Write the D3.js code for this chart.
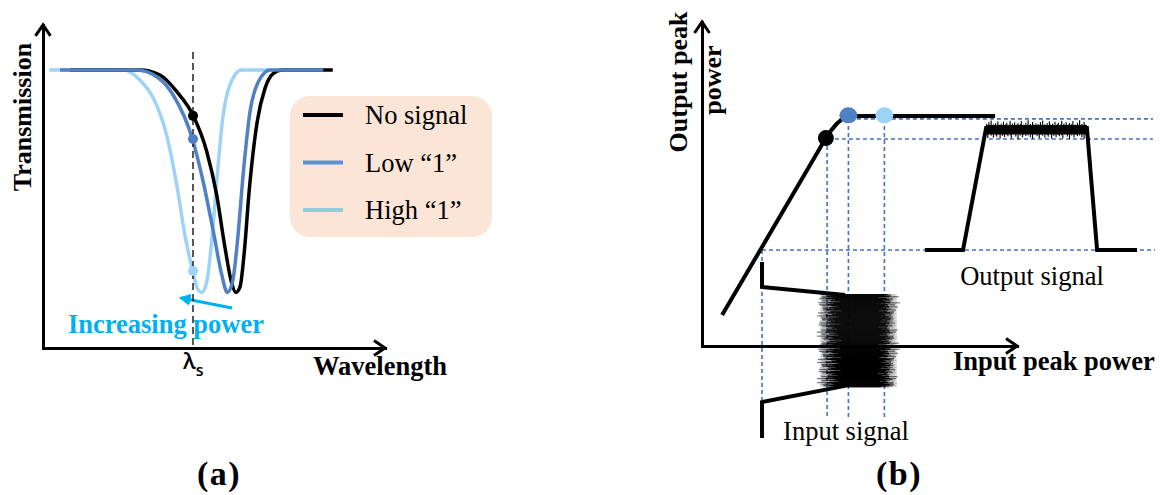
<!DOCTYPE html>
<html><head><meta charset="utf-8">
<script src="https://cdn.jsdelivr.net/npm/d3@7"></script>
<style>body{margin:0;background:#fff}svg{display:block}</style>
</head><body>
<svg id="c" width="1165" height="495"></svg>
<script>
// ---------- Panel (a) data: transmission vs wavelength (a.u.) ----------
const lambdaS = 50;
const noSignal = [[9.0,1],[32.3,1],[39.0,0.982],[44.6,0.922],[50.1,0.835],[54.6,0.706],[57.9,0.55],[60.7,0.359],[62.9,0.233],[64.3,0.2],[65.7,0.221],[67.0,0.335],[68.8,0.574],[71.4,0.814],[74.0,0.934],[76.8,0.988],[79.6,1],[96.6,1]];
const low1 = [[5.7,1],[31.2,1],[37.9,0.976],[43.4,0.91],[49.8,0.752],[53.4,0.598],[56.8,0.418],[59.6,0.263],[61.4,0.2],[63.2,0.239],[64.8,0.382],[66.8,0.634],[69.0,0.85],[71.8,0.958],[75.7,1],[93.4,1]];
const high1 = [[2.1,1],[26.8,1],[32.3,0.964],[36.8,0.898],[41.2,0.766],[44.6,0.586],[47.3,0.406],[49.9,0.277],[51.4,0.215],[52.9,0.2],[54.6,0.239],[56.2,0.382],[57.9,0.598],[59.9,0.826],[62.3,0.946],[66.2,1],[75.7,1]];
const dotsA = [0.835, 0.752, 0.277];            // transmission at lambda_s
const legendLabels = ["No signal", "Low \u201c1\u201d", "High \u201c1\u201d"];
const shiftArrow = [[63,0.144],[46,0.18]];       // increasing power arrow

// ---------- Panel (b) data: output vs input peak power (a.u.) ----------
const transfer = [[6.7,10.3],[41.3,69.3],[43.0,71.8],[45.0,74.2],[47.0,75.9],[49.0,76.7],[97.7,76.7]];
const inLevels = [20, 41.7, 48.8, 60.8];         // zero, no-signal, low "1", high "1"
const outLevels = [32, 69, 75.7];               // zero, no-signal, saturated
const dotsB = [[41.3,69.3],[48.8,76.9],[60.8,76.9]];
const outPulse = [[74.3,32],[87,32],[94.7,72.7],[128.3,72.7],[131.7,32],[145,32]];
const inUpper = [[20,28],[20,19.7],[47.7,17]];
const inLower = [[47.7,-13.3],[20,-18.7],[20,-30.7]];
const jitter = [0.62,0.18,0.85,0.41,0.97,0.27,0.55,0.08,0.73,0.36,0.91,0.49,0.14,0.66,0.32,0.88,0.04,0.58,0.79,0.22,0.45,0.95,0.11,0.69,0.38,0.83,0.26,0.52,0.74,0.06,0.61,0.93,0.3,0.47,0.16,0.77,0.4,0.99,0.21,0.64,0.12,0.86,0.5,0.35,0.71,0.03];

const C = {black:"#000", blue:"#4f81c4", light:"#9dd3f5", legBlue:"#5b8fd6", legLight:"#92cddc", cyan:"#00b0f0", dash:"#4472c4"};
const serif = "'Liberation Serif','Times New Roman',serif";
const svg = d3.select("#c");

function chevron(g, x, y, dir){
  const L=11, W=7.5;
  const d = dir==="up" ? `M${x-W},${y+L}L${x},${y}L${x+W},${y+L}` : `M${x-L},${y-W}L${x},${y}L${x-L},${y+W}`;
  g.append("path").attr("d",d).attr("fill","none").attr("stroke","#000").attr("stroke-width",3);
}
function styleAxis(g){ g.select(".domain").attr("stroke","#000").attr("stroke-width",3).attr("stroke-linecap","square"); }

// ================= Panel (a) =================
const xa = d3.scaleLinear().domain([0,114]).range([43,385]);
const ya = d3.scaleLinear().domain([0,1]).range([348,70]);
const ga = svg.append("g");
const yaAxis = d3.scaleLinear().domain([0,1.162]).range([ya(0), ya(1.162)]);
ga.append("g").attr("transform",`translate(0,${ya(0)})`)
  .call(d3.axisBottom(xa).tickValues([]).tickSizeOuter(0)).call(styleAxis);
ga.append("g").attr("transform",`translate(${xa(0)},0)`)
  .call(d3.axisLeft(yaAxis).tickValues([]).tickSizeOuter(0)).call(styleAxis);
chevron(ga, xa(0), yaAxis.range()[1], "up");
chevron(ga, xa.range()[1], ya(0), "right");

const lineA = d3.line().x(d=>xa(d[0])).y(d=>ya(d[1])).curve(d3.curveMonotoneX);
[[high1,C.light],[noSignal,C.black],[low1,C.blue]].forEach(([s,c])=>{
  ga.append("path").attr("d",lineA(s)).attr("fill","none").attr("stroke",c).attr("stroke-width",3.5);
});

// increasing power text & arrow
ga.append("text").attr("x",xa(8.3)).attr("y",ya(0.054)).attr("font-family",serif).attr("font-weight","bold")
  .attr("font-size",26.5).attr("fill",C.cyan).text("Increasing power");
const defs = svg.append("defs");
defs.append("marker").attr("id","ah").attr("viewBox","0 0 10 10").attr("refX",8).attr("refY",5)
  .attr("markerWidth",4).attr("markerHeight",4).attr("orient","auto")
  .append("path").attr("d","M0,0L10,5L0,10Z").attr("fill",C.cyan);
ga.append("path").attr("d",d3.line().x(d=>xa(d[0])).y(d=>ya(d[1]))(shiftArrow))
  .attr("stroke",C.cyan).attr("stroke-width",3).attr("fill","none").attr("marker-end","url(#ah)");

// lambda_s dashed line
ga.append("line").attr("x1",xa(lambdaS)).attr("x2",xa(lambdaS)).attr("y1",ya(1.065)).attr("y2",ya(0))
  .attr("stroke","#222").attr("stroke-width",1.5).attr("stroke-dasharray","7,4");
[C.black,C.blue,C.light].forEach((c,i)=>{
  ga.append("circle").attr("cx",xa(lambdaS)).attr("cy",ya(dotsA[i])).attr("r",5).attr("fill",c);
});
const lt = ga.append("text").attr("x",xa(lambdaS)-10).attr("y",369).attr("font-family","'Open Sans','Noto Sans',sans-serif").attr("font-size",22).attr("font-weight","600").attr("fill","#000");
lt.append("tspan").text("\u03bb");
lt.append("tspan").attr("font-size",16).attr("dy",7).attr("dx",0).text("s");

// axis labels a
ga.append("text").attr("transform",`translate(31,117) rotate(-90)`).attr("text-anchor","middle")
  .attr("font-family",serif).attr("font-weight","bold").attr("font-size",26).text("Transmission");
ga.append("text").attr("x",313).attr("y",375).attr("font-family",serif).attr("font-weight","bold").attr("font-size",26.5).text("Wavelength");

// legend
const lg = ga.append("g");
lg.append("rect").attr("x",290).attr("y",96).attr("width",202).attr("height",141).attr("rx",20).attr("fill","#fbe5d6");
[C.black,C.legBlue,C.legLight].forEach((c,i)=>{
  const yy = 115 + i*47.5;
  lg.append("line").attr("x1",303).attr("x2",343).attr("y1",yy).attr("y2",yy).attr("stroke",c).attr("stroke-width",4);
  lg.append("text").attr("x",365).attr("y",yy+9).attr("font-family",serif).attr("font-size",26.5).attr("fill","#000").text(legendLabels[i]);
});
ga.append("text").attr("x",219).attr("y",485).attr("text-anchor","middle").attr("font-family",serif)
  .attr("font-weight","bold").attr("font-size",34).attr("letter-spacing",1.5).text("(a)");

// ================= Panel (b) =================
const xb = d3.scaleLinear().domain([0,105]).range([702,1017]);
const yb = d3.scaleLinear().domain([0,108]).range([346,22]);
const gb = svg.append("g");
gb.append("g").attr("transform",`translate(0,${yb(0)})`)
  .call(d3.axisBottom(xb).tickValues([]).tickSizeOuter(0)).call(styleAxis);
gb.append("g").attr("transform",`translate(${xb(0)},0)`)
  .call(d3.axisLeft(yb).tickValues([]).tickSizeOuter(0)).call(styleAxis);
chevron(gb, xb(0), yb.range()[1], "up");
chevron(gb, xb.range()[1], yb(0), "right");

// dashed guides
const dashed = (x1,y1,x2,y2)=>gb.append("line").attr("x1",xb(x1)).attr("y1",yb(y1)).attr("x2",xb(x2)).attr("y2",yb(y2))
  .attr("stroke",C.dash).attr("stroke-width",1.6).attr("stroke-dasharray","4,3");
dashed(inLevels[0], outLevels[0], inLevels[0], -18);
dashed(inLevels[1], outLevels[1], inLevels[1], -24);
dashed(inLevels[2], outLevels[2], inLevels[2], -24);
dashed(inLevels[3], outLevels[2], inLevels[3], -24);
dashed(inLevels[0], outLevels[0], 151, outLevels[0]);
dashed(44.3, outLevels[1], 150.3, outLevels[1]);
dashed(49.3, outLevels[2], 150.3, outLevels[2]);

const lineB = d3.line().x(d=>xb(d[0])).y(d=>yb(d[1]));
gb.append("path").attr("d",lineB(transfer)).attr("fill","none").attr("stroke","#000").attr("stroke-width",4).attr("stroke-linejoin","round");
[C.black,C.blue,C.light].forEach((c,i)=>{
  gb.append("ellipse").attr("cx",xb(dotsB[i][0])).attr("cy",yb(dotsB[i][1])).attr("rx",i?9:8).attr("ry",8).attr("fill",c);
});

// output signal
gb.append("path").attr("d",lineB(outPulse)).attr("fill","none").attr("stroke","#000").attr("stroke-width",4).attr("stroke-linejoin","miter");
const nOutCols = 90, outX0 = 94.7, outX1 = 128.3, colW = (outX1-outX0)/nOutCols;
gb.append("rect").attr("x",xb(outX0)).attr("width",xb(outX1)-xb(outX0)).attr("y",yb(73.6)).attr("height",yb(70.6)-yb(73.6)).attr("fill","#000");
d3.range(nOutCols).forEach(k=>{
  const top = 73.6 + jitter[k%jitter.length]**3*1.7;
  const bot = 70.6 - jitter[(k+9)%jitter.length]**3*1.7;
  gb.append("rect").attr("x",xb(outX0+k*colW)).attr("width",xb(colW)-xb(0))
    .attr("y",yb(top)).attr("height",yb(bot)-yb(top)).attr("fill","#000");
});
gb.append("text").attr("x",1032).attr("y",285).attr("text-anchor","middle").attr("font-family",serif).attr("font-size",26.5).text("Output signal");

// input signal
gb.append("path").attr("d",lineB(inUpper)).attr("fill","none").attr("stroke","#000").attr("stroke-width",4);
gb.append("path").attr("d",lineB(inLower)).attr("fill","none").attr("stroke","#000").attr("stroke-width",4);
const nRows = jitter.length*2, tTop = 17.3, tBot = -13.7, rowH = (tTop-tBot)/nRows;
const coreL = 47.7, coreR = 57.8, fringeL = 39.3, fringeR = 65.0;
const J = i => jitter[((i%jitter.length)+jitter.length)%jitter.length];
gb.append("rect").attr("x",xb(fringeL)).attr("width",xb(fringeR)-xb(fringeL)).attr("y",yb(tTop)).attr("height",yb(tBot)-yb(tTop)).attr("fill","#000").attr("fill-opacity",0.1);
d3.range(nRows).forEach(i=>{
  const y0 = yb(tTop - i*rowH), h = yb(0)-yb(rowH)+0.2;
  const darkL = coreL - Math.sqrt(J(i))*6.5, midL = darkL - 0.8 - J(i+7)*3;
  const lightL = fringeL + J(i+19)*1.5;
  const darkR = coreR + Math.sqrt(J(i+13))*5, midR = darkR + 0.8 + J(i+29)*2.5;
  const lightR = fringeR - J(i+3)*1.5;
  [[lightL,lightR,0.18],[midL,midR,0.5],[darkL,darkR,1]].forEach(([a,b,o])=>{
    gb.append("rect").attr("x",xb(a)).attr("width",xb(b)-xb(a)).attr("y",y0).attr("height",h).attr("fill","#000").attr("fill-opacity",o);
  });
});
gb.append("text").attr("x",846).attr("y",440).attr("text-anchor","middle").attr("font-family",serif).attr("font-size",26.5).text("Input signal");

// axis labels b
gb.append("text").attr("transform",`translate(687,82) rotate(-90)`).attr("text-anchor","middle")
  .attr("font-family",serif).attr("font-weight","bold").attr("font-size",26).text("Output peak");
gb.append("text").attr("transform",`translate(721,80) rotate(-90)`).attr("text-anchor","middle")
  .attr("font-family",serif).attr("font-weight","bold").attr("font-size",26).text("power");
gb.append("text").attr("x",953).attr("y",370).attr("font-family",serif).attr("font-weight","bold").attr("font-size",26.5).text("Input peak power");
gb.append("text").attr("x",899).attr("y",485).attr("text-anchor","middle").attr("font-family",serif)
  .attr("font-weight","bold").attr("font-size",34).attr("letter-spacing",1.5).text("(b)");
</script>
</body></html>
